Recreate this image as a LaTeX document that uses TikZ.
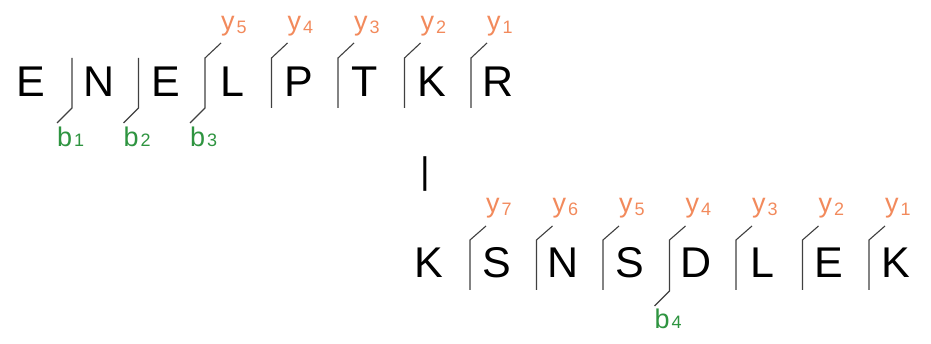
\documentclass[tikz,border=0pt]{standalone}
\usepackage{fontspec}
\setmainfont{Liberation Sans}
\definecolor{ycol}{RGB}{242,138,92}
\definecolor{bcol}{RGB}{46,148,64}
\newcommand{\lsub}[2][-2.5pt]{\kern2pt\raisebox{#1}{\fontsize{18}{18}\selectfont #2}}
\tikzset{
  letter/.style={font=\fontsize{43}{43}\selectfont, inner sep=0pt, anchor=base},
  ylab/.style={font=\fontsize{27}{27}\selectfont, text=ycol, inner sep=0pt, anchor=base west},
  blab/.style={font=\fontsize{27}{27}\selectfont, text=bcol, inner sep=0pt, anchor=base west},
  bar/.style={draw=black!75, line width=1.1pt}
}

\begin{document}
\begin{tikzpicture}[x=1pt,y=-1pt]
\useasboundingbox (0,0) rectangle (931,344);

% upper word
\node[letter] (u1) at (31,97) {E};
\node[letter] (u2) at (99,97) {N};
\node[letter] (u3) at (165.5,97) {E};
\node[letter] (u4) at (232,97) {L};
\node[letter] (u5) at (298.5,97) {P};
\node[letter] (u6) at (365,97) {T};
\node[letter] (u7) at (431.5,97) {K};
\node[letter] (u8) at (498,97) {R};

\draw[bar] (72,58) -- (72,108) -- ++(-15,15) coordinate (ub1);
\draw[bar] (138.5,58) -- (138.5,108) -- ++(-15,15) coordinate (ub2);
\draw[bar] (221,43) coordinate (uy5) -- (205,58) -- (205,108) -- ++(-15,15) coordinate (ub3);
\draw[bar] (271.5,108) -- (271.5,58) -- ++(16,-15) coordinate (uy4);
\draw[bar] (338,108) -- (338,58) -- ++(16,-15) coordinate (uy3);
\draw[bar] (404.5,108) -- (404.5,58) -- ++(16,-15) coordinate (uy2);
\draw[bar] (471,108) -- (471,58) -- ++(16,-15) coordinate (uy1);

\node[blab] (b1) at ([yshift=-24pt]ub1) {b\lsub[0pt]{1}};
\node[blab] (b2) at ([yshift=-24pt]ub2) {b\lsub[0pt]{2}};
\node[blab] (b3) at ([yshift=-24pt]ub3) {b\lsub[0pt]{3}};
\node[ylab] (uy5l) at ([yshift=12pt]uy5) {y\lsub{5}};
\node[ylab] (uy4l) at ([yshift=12pt]uy4) {y\lsub{4}};
\node[ylab] (uy3l) at ([yshift=12pt]uy3) {y\lsub{3}};
\node[ylab] (uy2l) at ([yshift=12pt]uy2) {y\lsub{2}};
\node[ylab] (uy1l) at ([yshift=12pt]uy1) {y\lsub{1}};

% separator
\node[font=\fontsize{37}{37}\selectfont, inner sep=0pt, anchor=base] (sep) at (425,184) {|};

% lower word
\node[letter] (l1) at (429,278) {K};
\node[letter] (l2) at (496.5,278) {S};
\node[letter] (l3) at (563,278) {N};
\node[letter] (l4) at (629.5,278) {S};
\node[letter] (l5) at (696,278) {D};
\node[letter] (l6) at (762.5,278) {L};
\node[letter] (l7) at (829,278) {E};
\node[letter] (l8) at (895.5,278) {K};

\draw[bar] (470,290) -- (470,240) -- ++(16,-14) coordinate (ly7);
\draw[bar] (536.5,290) -- (536.5,240) -- ++(16,-14) coordinate (ly6);
\draw[bar] (603,290) -- (603,240) -- ++(16,-14) coordinate (ly5);
\draw[bar] (685.5,226) coordinate (ly4) -- (669.5,240) -- (669.5,291) -- ++(-15,15) coordinate (lb4);
\draw[bar] (736,290) -- (736,240) -- ++(16,-14) coordinate (ly3);
\draw[bar] (802.5,290) -- (802.5,240) -- ++(16,-14) coordinate (ly2);
\draw[bar] (869,290) -- (869,240) -- ++(16,-14) coordinate (ly1);

\node[ylab] (ly7l) at ([yshift=13pt]ly7) {y\lsub{7}};
\node[ylab] (ly6l) at ([yshift=13pt]ly6) {y\lsub{6}};
\node[ylab] (ly5l) at ([yshift=13pt]ly5) {y\lsub{5}};
\node[ylab] (ly4l) at ([yshift=13pt]ly4) {y\lsub{4}};
\node[ylab] (ly3l) at ([yshift=13pt]ly3) {y\lsub{3}};
\node[ylab] (ly2l) at ([yshift=13pt]ly2) {y\lsub{2}};
\node[ylab] (ly1l) at ([yshift=13pt]ly1) {y\lsub{1}};
\node[blab] (b4) at ([yshift=-23pt]lb4) {b\lsub[0pt]{4}};
\end{tikzpicture}
\end{document}
